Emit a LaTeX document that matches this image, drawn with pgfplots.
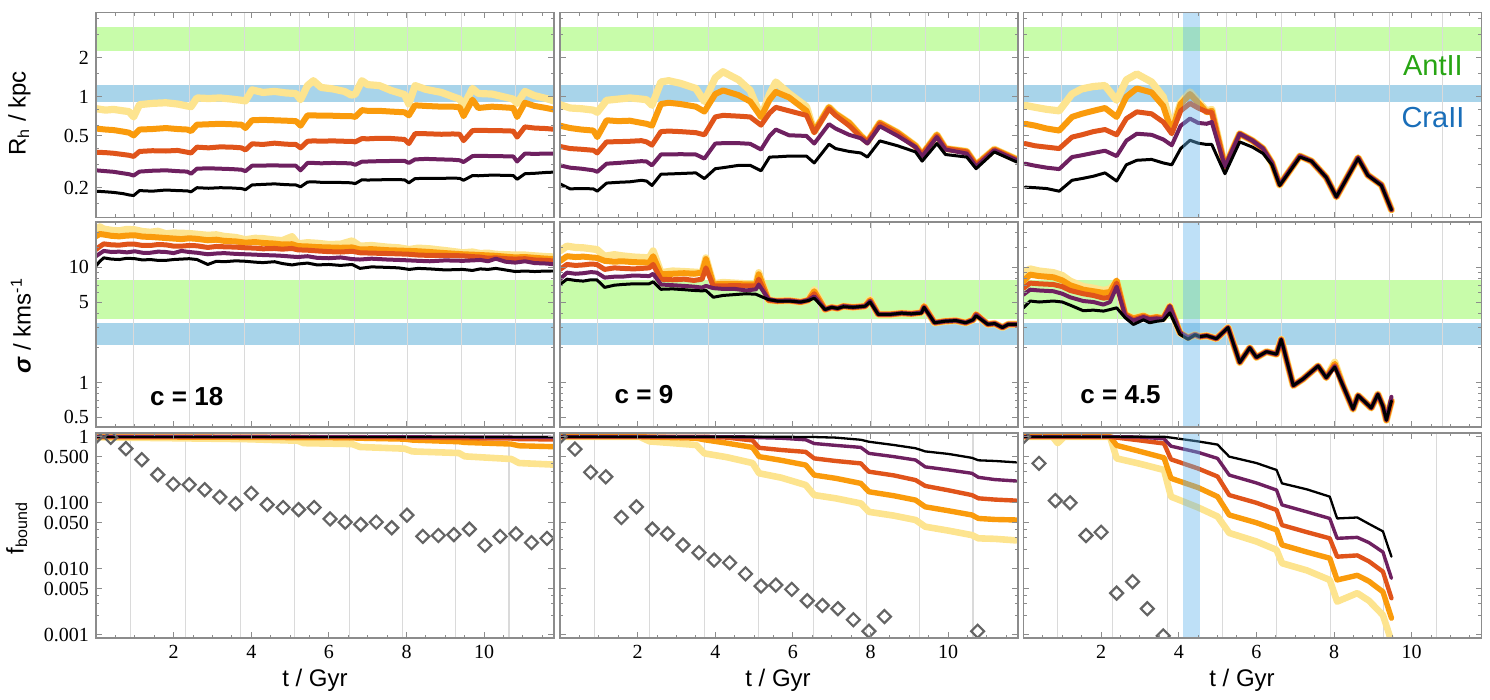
\documentclass[border=0pt]{standalone}
\usepackage{fontspec}
\setmainfont{Liberation Serif}
\newfontfamily\sansf{Liberation Sans}
\usepackage{pgfplots}
\usepackage{pgfplotstable}
\pgfplotsset{compat=1.18}

\definecolor{cyel}{RGB}{253,228,143}
\definecolor{cora}{RGB}{250,155,12}
\definecolor{cred}{RGB}{224,84,26}
\definecolor{cpur}{RGB}{110,32,96}
\definecolor{bandg}{RGB}{200,252,170}
\definecolor{bandb}{RGB}{168,212,234}
\definecolor{bandv}{RGB}{100,180,235}
\definecolor{framec}{RGB}{140,140,140}
\definecolor{gridc}{RGB}{218,218,218}
\definecolor{diac}{RGB}{100,100,100}
\definecolor{antc}{RGB}{40,165,20}
\definecolor{crac}{RGB}{25,110,185}

\pgfplotsset{
  pnlbox/.style={scale only axis, width=229pt, height=102.5pt,
    xmin=0, xmax=11.8, axis on top,
    axis line style={draw=framec, line width=0.9pt},
    tick style={draw=framec, line width=0.5pt},
    major tick length=2.8pt, minor tick length=1.6pt,
    xtick={2,4,6,8,10}, minor xtick={0.5,1,...,11.5},
    tick label style={font=\fontsize{10}{11}\selectfont},
    xticklabels={}, yticklabels={},
    clip marker paths=true},
  rowrh/.style={ymin=0.118, ymax=4.45, ytick={0.2,0.5,1,2},
    minor ytick={0.15,0.3,0.4,0.6,0.8,1.5,3,4}},
  rowsig/.style={ymin=0.41, ymax=24.8, ytick={0.5,1,5,10},
    minor ytick={0.6,0.7,0.8,0.9,2,3,4,6,7,8,9,15,20}},
  rowfb/.style={ymin=0.0009, ymax=1.14, ytick={0.001,0.005,0.01,0.05,0.1,0.5,1},
    minor ytick={0.002,0.003,0.004,0.02,0.03,0.04,0.2,0.3,0.4},
    xticklabels={2,4,6,8,10}},
  lbase/.style={line join=round, line cap=round, no markers},
  lyel/.style={lbase, cyel, line width=3.6pt},
  lora/.style={lbase, cora, line width=3.0pt},
  lred/.style={lbase, cred, line width=2.5pt},
  lpur/.style={lbase, cpur, line width=2.0pt},
  lblk/.style={lbase, black, line width=1.5pt},
  diam/.style={only marks, mark=square, mark size=2.3pt,
    mark options={rotate=45, draw=diac, line width=1.1pt, fill=none}},
}

% five mass-fraction curves of one run, from yellow (outermost) to black (innermost)
\newcommand\five[1]{%
  \addplot[lyel] table[x=t,y=a]{#1};
  \addplot[lora] table[x=t,y=b]{#1};
  \addplot[lred] table[x=t,y=c]{#1};
  \addplot[lpur] table[x=t,y=d]{#1};
  \addplot[lblk] table[x=t,y=e]{#1};}
% same, slightly thinner, for the bound-fraction row
\newcommand\fivethin[1]{%
  \addplot[lyel, line width=3.3pt] table[x=t,y=a]{#1};
  \addplot[lora, line width=2.7pt] table[x=t,y=b]{#1};
  \addplot[lred, line width=2.2pt] table[x=t,y=c]{#1};
  \addplot[lpur, line width=1.7pt] table[x=t,y=d]{#1};
  \addplot[lblk, line width=1.15pt] table[x=t,y=e]{#1};}
\newcommand\hband[3]{\fill[#1] ({rel axis cs:0,0}|-{axis cs:0,#2}) rectangle ({rel axis cs:1,0}|-{axis cs:0,#3});}
\newcommand\vgrid[1]{\pgfplotsinvokeforeach{#1}{\draw[gridc, line width=0.55pt] ({axis cs:##1,1}|-{rel axis cs:0,0}) -- ({axis cs:##1,1}|-{rel axis cs:0,1});}}
\newcommand\vband{\fill[bandv, opacity=0.42] ({axis cs:4.1,1}|-{rel axis cs:0,0}) rectangle ({axis cs:4.56,1}|-{rel axis cs:0,1});}
% pericentre passages
\newcommand\periA{\vgrid{0.97,2.42,3.83,5.24,6.65,8.03,9.42,10.8}}
\newcommand\periB{\vgrid{0.88,2.3,3.72,5.12,6.52,7.9,9.27,10.64}}

% ---------------- half-mass radius R_h [kpc] ----------------
\pgfplotstableread{
t a b c d e
0.00 0.81 0.57 0.375 0.272 0.188
0.25 0.79 0.56 0.372 0.268 0.186
0.45 0.80 0.555 0.368 0.265 0.184
0.70 0.78 0.54 0.36 0.258 0.180
0.85 0.77 0.53 0.355 0.254 0.176
0.97 0.70 0.505 0.348 0.248 0.174
1.12 0.87 0.56 0.38 0.266 0.19
1.45 0.89 0.565 0.385 0.27 0.188
1.80 0.90 0.575 0.383 0.272 0.192
2.10 0.88 0.565 0.387 0.268 0.19
2.35 0.85 0.56 0.375 0.266 0.189
2.45 0.84 0.545 0.37 0.256 0.186
2.60 0.98 0.61 0.41 0.28 0.20
2.90 0.97 0.615 0.405 0.282 0.198
3.20 0.98 0.62 0.412 0.28 0.20
3.50 0.96 0.615 0.41 0.278 0.199
3.75 0.94 0.61 0.405 0.275 0.197
3.85 0.93 0.575 0.39 0.268 0.193
4.02 1.13 0.66 0.435 0.295 0.21
4.30 1.08 0.665 0.43 0.296 0.212
4.60 1.10 0.66 0.44 0.297 0.214
4.90 1.07 0.655 0.432 0.295 0.211
5.15 1.06 0.65 0.43 0.295 0.21
5.27 0.95 0.60 0.405 0.272 0.203
5.45 1.22 0.72 0.455 0.31 0.221
5.60 1.33 0.72 0.458 0.31 0.222
5.80 1.18 0.715 0.456 0.308 0.22
6.10 1.15 0.715 0.458 0.31 0.22
6.40 1.10 0.71 0.455 0.309 0.219
6.58 1.03 0.71 0.455 0.307 0.218
6.68 1.05 0.70 0.45 0.30 0.215
6.85 1.33 0.79 0.477 0.317 0.23
7.00 1.24 0.78 0.475 0.318 0.229
7.30 1.22 0.78 0.48 0.32 0.23
7.60 1.12 0.77 0.478 0.321 0.231
7.95 1.04 0.76 0.47 0.322 0.23
8.06 0.88 0.72 0.437 0.31 0.218
8.22 1.22 0.86 0.52 0.33 0.235
8.50 1.14 0.85 0.52 0.333 0.236
8.90 1.08 0.84 0.515 0.33 0.236
9.20 1.00 0.84 0.518 0.328 0.237
9.37 0.96 0.83 0.515 0.325 0.236
9.47 0.85 0.71 0.46 0.315 0.228
9.70 1.16 0.95 0.55 0.35 0.248
9.85 1.06 0.82 0.552 0.352 0.247
10.20 1.05 0.84 0.55 0.35 0.25
10.50 1.00 0.83 0.548 0.349 0.249
10.75 0.96 0.82 0.545 0.348 0.248
10.85 0.89 0.70 0.49 0.318 0.232
11.05 1.10 0.90 0.587 0.366 0.256
11.30 1.02 0.85 0.575 0.364 0.258
11.60 0.97 0.82 0.57 0.366 0.262
11.87 0.915 0.79 0.56 0.366 0.264
}\RA
\pgfplotstableread{
t a b c d e
0.00 0.87 0.60 0.415 0.297 0.214
0.26 0.82 0.575 0.40 0.285 0.196
0.55 0.81 0.56 0.395 0.28 0.197
0.86 0.79 0.55 0.388 0.272 0.196
0.96 0.76 0.49 0.37 0.265 0.188
1.20 0.94 0.66 0.45 0.306 0.217
1.50 0.96 0.65 0.452 0.31 0.22
1.80 0.98 0.655 0.455 0.315 0.222
2.10 0.96 0.63 0.46 0.32 0.228
2.23 0.95 0.62 0.45 0.318 0.225
2.37 0.86 0.60 0.425 0.297 0.208
2.60 1.30 0.88 0.54 0.36 0.254
2.80 1.33 0.90 0.545 0.36 0.255
3.10 1.27 0.88 0.54 0.362 0.257
3.50 1.16 0.84 0.53 0.36 0.26
3.72 0.92 0.77 0.51 0.335 0.235
4.00 1.40 1.05 0.70 0.437 0.28
4.20 1.56 1.12 0.72 0.44 0.285
4.60 1.35 1.03 0.71 0.44 0.297
4.90 1.12 0.92 0.70 0.435 0.297
5.18 0.70 0.70 0.605 0.393 0.27
5.40 1.05 0.95 0.75 0.50 0.344
5.56 1.30 1.09 0.83 0.56 0.345
5.90 1.06 0.99 0.78 0.506 0.35
6.35 0.84 0.78 0.72 0.50 0.35
6.55 0.54 0.54 0.53 0.437 0.31
6.93 0.83 0.83 0.81 0.616 0.432
7.10 0.74 0.74 0.72 0.57 0.40
7.45 0.63 0.63 0.60 0.51 0.38
7.75 0.50 0.50 0.49 0.48 0.37
7.92 0.45 0.45 0.45 0.437 0.344
8.24 0.63 0.63 0.62 0.594 0.458
8.70 0.53 0.53 0.52 0.50 0.42
9.16 0.42 0.42 0.41 0.411 0.377
9.33 0.36 0.36 0.36 0.348 0.32
9.71 0.51 0.51 0.50 0.49 0.437
9.93 0.40 0.40 0.40 0.393 0.36
10.48 0.38 0.38 0.377 0.366 0.344
10.72 0.30 0.30 0.297 0.29 0.28
11.19 0.395 0.395 0.393 0.388 0.377
11.77 0.33 0.33 0.327 0.325 0.315
}\RB
\pgfplotstableread{
t a b c d e
0.04 0.86 0.62 0.437 0.306 0.202
0.30 0.83 0.60 0.42 0.295 0.200
0.60 0.80 0.57 0.41 0.285 0.197
0.92 0.78 0.55 0.40 0.278 0.188
1.25 1.05 0.70 0.49 0.344 0.228
1.50 1.15 0.74 0.51 0.355 0.235
1.80 1.20 0.78 0.54 0.37 0.245
2.10 1.22 0.82 0.56 0.385 0.26
2.40 0.94 0.70 0.51 0.35 0.225
2.65 1.35 1.00 0.68 0.46 0.30
2.92 1.50 1.16 0.766 0.52 0.325
3.30 1.30 1.08 0.74 0.51 0.33
3.60 1.00 0.85 0.64 0.47 0.31
3.82 0.57 0.54 0.52 0.424 0.30
4.05 0.90 0.88 0.78 0.60 0.40
4.29 1.09 1.05 0.89 0.68 0.463
4.50 0.92 0.90 0.82 0.63 0.44
4.72 0.78 0.76 0.766 0.62 0.43
4.85 0.80 0.78 0.76 0.64 0.43
5.19 0.29 0.29 0.29 0.29 0.256
5.57 0.52 0.52 0.52 0.52 0.45
5.90 0.46 0.46 0.46 0.46 0.41
6.17 0.40 0.40 0.40 0.40 0.367
6.40 0.31 0.31 0.31 0.31 0.30
6.60 0.21 0.21 0.21 0.21 0.208
7.12 0.35 0.35 0.35 0.35 0.344
7.42 0.32 0.32 0.32 0.32 0.32
7.80 0.24 0.24 0.24 0.24 0.24
8.06 0.17 0.17 0.17 0.17 0.17
8.62 0.34 0.34 0.34 0.34 0.335
8.87 0.25 0.25 0.25 0.25 0.249
9.22 0.21 0.21 0.21 0.21 0.208
9.48 0.135 0.135 0.135 0.135 0.135
}\RC

% ---------------- velocity dispersion sigma [km/s] ----------------
\pgfplotstableread{
t a b c d e
0.00 21.3 18.7 14.3 12.5 10.3
0.10 22.5 19.5 15.2 13.2 11.3
0.20 21.5 19.3 16.0 13.9 12.1
0.40 21.0 18.8 15.7 13.6 11.8
0.60 20.8 18.6 15.6 13.7 11.7
0.80 21.4 18.9 15.9 13.5 12.0
1.00 21.2 19.0 15.9 13.8 11.9
1.20 20.5 18.5 15.5 13.4 11.6
1.40 20.2 18.4 15.5 13.4 11.7
1.60 20.6 18.2 15.8 13.7 11.5
1.80 19.6 18.0 15.7 13.6 11.5
2.00 19.9 17.8 15.3 13.3 11.7
2.20 19.8 17.6 15.3 13.9 11.8
2.40 19.7 17.9 15.5 13.6 11.9
2.60 19.4 17.7 15.4 13.4 11.7
2.88 19.0 17.2 14.9 13.0 10.6
3.10 19.2 17.4 15.2 13.2 11.3
3.30 18.6 17.0 15.1 13.3 11.2
3.60 18.2 16.8 15.0 13.1 11.4
3.85 17.4 16.4 14.8 13.0 11.3
4.10 17.9 16.6 14.7 12.9 11.1
4.30 17.8 16.3 14.5 12.8 11.0
4.60 17.3 16.1 14.6 12.7 11.2
4.80 17.1 15.8 14.4 12.6 10.8
5.05 18.5 15.9 14.6 12.4 10.5
5.20 16.0 15.3 14.2 12.3 10.7
5.45 16.4 15.2 14.1 12.5 10.9
5.70 16.2 15.0 13.9 12.1 10.5
6.00 15.8 14.9 13.7 12.0 10.6
6.30 15.9 14.8 13.6 12.2 10.4
6.60 17.0 14.9 13.8 11.8 10.6
6.80 15.3 14.3 13.4 11.7 9.8
7.10 15.5 14.4 13.3 11.9 10.1
7.50 15.0 14.1 13.2 11.7 10.0
7.80 14.8 14.0 13.1 11.6 9.9
8.07 14.3 13.9 13.0 11.5 9.6
8.30 14.7 13.8 12.8 11.4 9.8
8.60 14.5 13.6 12.7 11.3 9.7
9.00 14.0 13.3 12.7 11.5 9.5
9.45 13.4 13.0 12.6 11.4 9.6
9.70 13.6 12.9 12.4 11.5 9.4
9.90 13.2 12.8 12.3 11.6 9.7
10.10 13.3 12.7 12.0 11.3 9.6
10.30 13.0 12.6 12.1 11.9 9.8
10.55 12.9 12.4 11.9 11.2 9.5
10.80 12.8 12.2 11.8 11.0 9.2
11.05 12.8 12.3 11.9 11.3 9.3
11.30 12.6 12.1 11.6 10.9 9.2
11.60 12.4 11.9 11.5 10.8 9.3
11.87 12.3 11.8 11.3 10.6 9.3
}\SA
\pgfplotstableread{
t a b c d e
0.00 13.9 11.35 9.6 7.9 7.1
0.18 15.3 12.5 10.6 9.0 7.9
0.40 14.9 12.3 10.4 8.8 7.7
0.60 14.8 12.4 10.5 8.9 7.6
0.80 14.5 12.2 10.7 9.1 7.8
0.95 14.3 12.1 10.6 9.0 7.8
1.15 12.5 11.4 9.6 8.15 6.7
1.40 12.9 11.2 9.9 8.3 7.0
1.60 12.6 11.3 9.8 8.3 7.1
1.90 12.3 11.1 9.7 8.5 7.2
2.30 12.1 11.0 9.9 8.4 7.2
2.40 13.9 12.5 10.6 8.8 7.5
2.60 9.0 8.7 7.9 7.1 6.45
2.90 9.3 8.8 7.8 7.0 6.5
3.20 9.2 8.9 7.9 6.9 6.4
3.45 9.1 8.8 7.7 6.8 6.3
3.66 9.0 9.0 7.9 6.67 6.25
3.76 12.1 11.8 9.9 6.9 6.3
3.95 7.2 7.1 6.9 6.6 5.5
4.20 7.4 7.2 6.9 6.5 5.7
4.50 7.3 7.2 6.95 6.5 5.8
4.80 7.2 7.1 6.9 6.3 5.9
5.05 7.1 7.1 6.9 6.45 5.84
5.12 9.0 8.7 7.9 7.1 5.7
5.37 5.2 5.2 5.2 5.3 5.25
5.60 5.1 5.1 5.1 5.1 5.1
5.90 5.15 5.15 5.15 5.15 5.1
6.20 5.0 5.0 5.0 5.0 5.0
6.40 5.2 5.2 5.2 5.2 5.15
6.55 6.4 6.2 5.9 5.6 5.4
6.83 4.3 4.3 4.3 4.3 4.3
7.00 4.5 4.5 4.5 4.5 4.5
7.15 4.4 4.4 4.4 4.4 4.4
7.30 4.6 4.6 4.6 4.6 4.55
7.55 4.5 4.5 4.5 4.5 4.5
7.86 4.6 4.6 4.6 4.6 4.6
7.99 5.3 5.2 5.1 5.1 5.0
8.20 3.9 3.9 3.9 3.9 3.9
8.50 3.9 3.9 3.9 3.9 3.9
8.80 4.0 4.0 4.0 4.0 4.0
9.05 3.95 3.95 3.95 3.95 3.95
9.31 4.05 4.05 4.05 4.05 4.0
9.38 4.6 4.6 4.55 4.5 4.5
9.65 3.3 3.3 3.3 3.3 3.3
9.90 3.4 3.4 3.4 3.4 3.4
10.20 3.45 3.45 3.45 3.45 3.45
10.45 3.3 3.3 3.3 3.3 3.3
10.64 3.5 3.5 3.5 3.5 3.5
10.72 3.9 3.9 3.9 3.85 3.8
11.02 3.2 3.2 3.2 3.2 3.2
11.20 3.25 3.25 3.25 3.25 3.25
11.40 3.0 3.0 3.0 3.0 3.0
11.55 3.2 3.2 3.2 3.2 3.2
11.77 3.2 3.2 3.2 3.2 3.2
}\SB
\pgfplotstableread{
t a b c d e
0.00 8.95 7.6 6.6 5.8 4.45
0.17 9.7 8.65 7.3 6.4 5.1
0.40 9.3 8.4 7.2 6.3 5.0
0.77 9.0 8.2 7.1 6.2 5.1
1.00 8.5 7.7 6.8 5.9 5.0
1.20 7.6 7.0 6.3 5.5 4.7
1.54 6.8 6.4 5.9 5.1 4.2
1.80 6.6 6.2 5.7 5.0 4.25
2.06 6.3 6.0 5.4 4.75 4.17
2.23 6.5 6.1 5.5 5.0 4.3
2.40 7.5 7.7 7.3 6.8 4.45
2.62 3.9 3.9 3.9 3.8 3.65
2.83 3.6 3.6 3.5 3.45 3.19
3.09 3.8 3.8 3.75 3.7 3.5
3.25 3.6 3.6 3.6 3.55 3.3
3.43 3.7 3.7 3.65 3.6 3.4
3.60 3.6 3.6 3.6 3.55 3.45
3.77 4.6 4.6 4.6 4.6 4.03
4.03 2.7 2.7 2.7 2.7 2.62
4.24 2.45 2.45 2.45 2.45 2.37
4.42 2.6 2.6 2.6 2.6 2.6
4.54 2.5 2.5 2.5 2.5 2.5
4.72 2.55 2.55 2.55 2.55 2.55
4.97 2.4 2.4 2.4 2.4 2.4
5.27 3.0 3.0 3.0 3.0 3.0
5.57 1.49 1.49 1.49 1.49 1.49
5.83 2.0 2.0 2.0 2.0 2.0
6.00 1.65 1.65 1.65 1.65 1.65
6.26 1.85 1.85 1.85 1.85 1.85
6.52 1.76 1.76 1.76 1.76 1.76
6.64 2.37 2.37 2.37 2.37 2.37
6.95 0.94 0.94 0.94 0.94 0.94
7.20 1.07 1.07 1.07 1.07 1.07
7.59 1.39 1.39 1.39 1.39 1.39
7.80 1.1 1.1 1.1 1.1 1.1
8.02 1.5 1.45 1.4 1.38 1.36
8.23 0.94 0.94 0.94 0.94 0.94
8.49 0.587 0.587 0.587 0.587 0.587
8.62 0.77 0.77 0.77 0.77 0.77
8.96 0.60 0.60 0.60 0.60 0.60
9.13 0.79 0.79 0.79 0.79 0.79
9.26 0.62 0.62 0.62 0.62 0.62
9.35 0.47 0.47 0.47 0.47 0.47
9.48 0.69 0.69 0.69 0.75 0.69
}\SC

% ---------------- bound mass fraction ----------------
\pgfplotstableread{
t a b c d e
0.00 0.98 0.99 1.0 1.0 1.0
2.00 0.95 0.99 1.0 1.0 1.0
3.85 0.92 0.98 1.0 1.0 1.0
5.20 0.87 0.97 0.995 1.0 1.0
5.35 0.80 0.97 0.99 1.0 1.0
6.60 0.775 0.96 0.99 1.0 1.0
6.80 0.70 0.95 0.985 1.0 1.0
7.95 0.66 0.92 0.98 1.0 1.0
8.15 0.60 0.89 0.97 0.995 1.0
9.35 0.567 0.84 0.96 0.99 1.0
9.50 0.505 0.82 0.95 0.99 1.0
10.70 0.46 0.775 0.94 0.985 1.0
10.90 0.40 0.73 0.92 0.98 1.0
11.87 0.377 0.705 0.91 0.975 1.0
}\FA
\pgfplotstableread{
t a b c d e
0.00 1.0 1.0 1.0 1.0 1.0
2.05 1.0 1.0 1.0 1.0 1.0
2.31 0.85 0.99 1.0 1.0 1.0
2.90 0.80 0.97 1.0 1.0 1.0
3.51 0.75 0.95 1.0 1.0 1.0
3.72 0.56 0.90 1.0 1.0 1.0
4.30 0.49 0.80 0.97 1.0 1.0
4.96 0.40 0.69 0.88 0.99 1.0
5.13 0.28 0.50 0.68 0.97 1.0
5.70 0.24 0.44 0.63 0.95 1.0
6.33 0.186 0.373 0.59 0.90 0.99
6.55 0.131 0.263 0.47 0.79 0.99
7.10 0.117 0.235 0.43 0.74 0.97
7.75 0.098 0.197 0.395 0.69 0.90
7.96 0.073 0.147 0.296 0.56 0.84
8.60 0.064 0.128 0.26 0.50 0.75
9.16 0.055 0.11 0.221 0.445 0.67
9.41 0.0435 0.087 0.18 0.35 0.60
10.00 0.038 0.076 0.155 0.315 0.55
10.61 0.0325 0.0655 0.131 0.28 0.48
10.78 0.029 0.058 0.117 0.243 0.44
11.20 0.0285 0.056 0.112 0.225 0.43
11.75 0.027 0.055 0.108 0.214 0.41
}\FB
\pgfplotstableread{
t a b c d e
0.00 1.0 1.0 1.0 1.0 1.0
0.75 1.0 1.0 1.0 1.0 1.0
0.88 0.80 1.0 1.0 1.0 1.0
1.05 1.0 1.0 1.0 1.0 1.0
2.23 1.0 1.0 1.0 1.0 1.0
2.40 0.47 0.74 0.97 1.0 1.0
3.00 0.39 0.60 0.88 0.99 1.0
3.62 0.314 0.48 0.79 0.93 1.0
3.80 0.124 0.235 0.455 0.72 0.97
4.50 0.085 0.17 0.33 0.58 0.85
5.00 0.062 0.124 0.25 0.47 0.76
5.30 0.035 0.0655 0.131 0.263 0.50
6.00 0.026 0.05 0.10 0.20 0.40
6.52 0.0194 0.039 0.078 0.156 0.314
6.66 0.0122 0.0231 0.046 0.093 0.197
7.30 0.0095 0.018 0.036 0.073 0.16
7.89 0.0068 0.0145 0.029 0.058 0.124
8.08 0.0032 0.0068 0.0153 0.029 0.058
8.60 0.0043 0.008 0.016 0.030 0.060
8.90 0.0033 0.0065 0.013 0.025 0.048
9.26 0.0020 0.0045 0.0091 0.018 0.037
9.48 0.0008 0.0018 0.0036 0.0072 0.0153
}\FC

% bound fraction of the stellar particles, sampled every 0.4 Gyr
\pgfplotstableread{
t f
0.00 1.0
0.38 0.98
0.77 0.66
1.18 0.449
1.59 0.266
1.99 0.192
2.40 0.188
2.80 0.158
3.19 0.122
3.60 0.097
4.00 0.139
4.41 0.094
4.82 0.085
5.22 0.079
5.62 0.085
6.03 0.057
6.42 0.051
6.82 0.047
7.22 0.051
7.62 0.042
8.01 0.065
8.42 0.031
8.82 0.032
9.22 0.033
9.62 0.040
10.02 0.0228
10.41 0.031
10.82 0.034
11.22 0.025
11.62 0.029
}\DA
\pgfplotstableread{
t f
0.00 1.0
0.385 0.65
0.79 0.29
1.18 0.248
1.58 0.060
1.97 0.087
2.38 0.040
2.77 0.034
3.17 0.023
3.58 0.0176
3.97 0.0136
4.37 0.0124
4.78 0.0084
5.18 0.0055
5.56 0.0057
5.97 0.0049
6.37 0.0033
6.76 0.0028
7.16 0.0025
7.56 0.0017
7.96 0.00114
8.36 0.0019
10.76 0.00114
}\DB
\pgfplotstableread{
t f
0.00 1.0
0.40 0.395
0.82 0.108
1.20 0.10
1.61 0.032
2.00 0.0358
2.40 0.0043
2.81 0.0064
3.19 0.0025
3.60 0.00097
}\DC

\begin{document}
\begin{tikzpicture}
\useasboundingbox (0,0) rectangle (745pt,350pt);

% ---- row 1: half-mass radius ----
\begin{axis}[pnlbox, ymode=log, rowrh, at={(48pt,241.25pt)}, anchor=south west,
  yticklabels={0.2,0.5,1,2}]
  \hband{bandg}{2.25}{3.47}\hband{bandb}{0.905}{1.23}
  \periA
  \five{\RA}
\end{axis}
\begin{axis}[pnlbox, ymode=log, rowrh, at={(280pt,241.25pt)}, anchor=south west]
  \hband{bandg}{2.25}{3.47}\hband{bandb}{0.905}{1.23}
  \periA
  \five{\RB}
\end{axis}
\begin{axis}[pnlbox, ymode=log, rowrh, at={(511.75pt,241.25pt)}, anchor=south west]
  \hband{bandg}{2.25}{3.47}\hband{bandb}{0.905}{1.23}
  \periA
  \five{\RC}
  \vband
  \node[antc, font=\sansf\fontsize{14.5}{15}\selectfont] at (rel axis cs:0.894,0.741) {AntII};
  \node[crac, font=\sansf\fontsize{14.5}{15}\selectfont] at (rel axis cs:0.894,0.49) {CraII};
\end{axis}

% ---- row 2: velocity dispersion ----
\begin{axis}[pnlbox, ymode=log, rowsig, at={(48pt,136.5pt)}, anchor=south west,
  yticklabels={0.5,1,5,10}]
  \hband{bandg}{3.58}{7.83}\hband{bandb}{2.10}{3.28}
  \periA
  \five{\SA}
  \node[anchor=west, font=\sansf\bfseries\fontsize{13}{13}\selectfont] at (rel axis cs:0.103,0.15) {c = 18};
\end{axis}
\begin{axis}[pnlbox, ymode=log, rowsig, at={(280pt,136.5pt)}, anchor=south west]
  \hband{bandg}{3.58}{7.83}\hband{bandb}{2.10}{3.28}
  \periA
  \five{\SB}
  \node[anchor=west, font=\sansf\bfseries\fontsize{13}{13}\selectfont] at (rel axis cs:0.104,0.16) {c = 9};
\end{axis}
\begin{axis}[pnlbox, ymode=log, rowsig, at={(511.75pt,136.5pt)}, anchor=south west]
  \hband{bandg}{3.58}{7.83}\hband{bandb}{2.10}{3.28}
  \periA
  \five{\SC}
  \vband
  \node[anchor=west, font=\sansf\bfseries\fontsize{13}{13}\selectfont] at (rel axis cs:0.109,0.16) {c = 4.5};
\end{axis}

% ---- row 3: bound fraction ----
\begin{axis}[pnlbox, ymode=log, rowfb, at={(48pt,31pt)}, anchor=south west,
  yticklabels={0.001,0.005,0.010,0.050,0.100,0.500,1}]
  \periB
  \fivethin{\FA}
  \addplot[diam] table[x=t,y=f]{\DA};
\end{axis}
\begin{axis}[pnlbox, ymode=log, rowfb, at={(280pt,31pt)}, anchor=south west]
  \periB
  \fivethin{\FB}
  \addplot[diam] table[x=t,y=f]{\DB};
\end{axis}
\begin{axis}[pnlbox, ymode=log, rowfb, at={(511.75pt,31pt)}, anchor=south west]
  \periB
  \fivethin{\FC}
  \vband
  \addplot[diam] table[x=t,y=f]{\DC};
\end{axis}

% ---- axis titles ----
\node[rotate=90, anchor=base, font=\sansf\fontsize{12}{13}\selectfont] at (12.8pt,293.25pt) {R\textsubscript{h} / kpc};
\node[rotate=90, anchor=base, font=\sansf\fontsize{12}{13}\selectfont] at (15.3pt,187.25pt) {{\bfseries\itshape σ} / kms\textsuperscript{-1}};
\node[rotate=90, anchor=base, font=\sansf\fontsize{12}{13}\selectfont] at (11.8pt,86pt) {f\textsubscript{bound}};
\node[anchor=base, font=\sansf\fontsize{12}{13}\selectfont] at (157.5pt,6.6pt) {t / Gyr};
\node[anchor=base, font=\sansf\fontsize{12}{13}\selectfont] at (389pt,6.6pt) {t / Gyr};
\node[anchor=base, font=\sansf\fontsize{12}{13}\selectfont] at (621pt,6.6pt) {t / Gyr};
\end{tikzpicture}
\end{document}
